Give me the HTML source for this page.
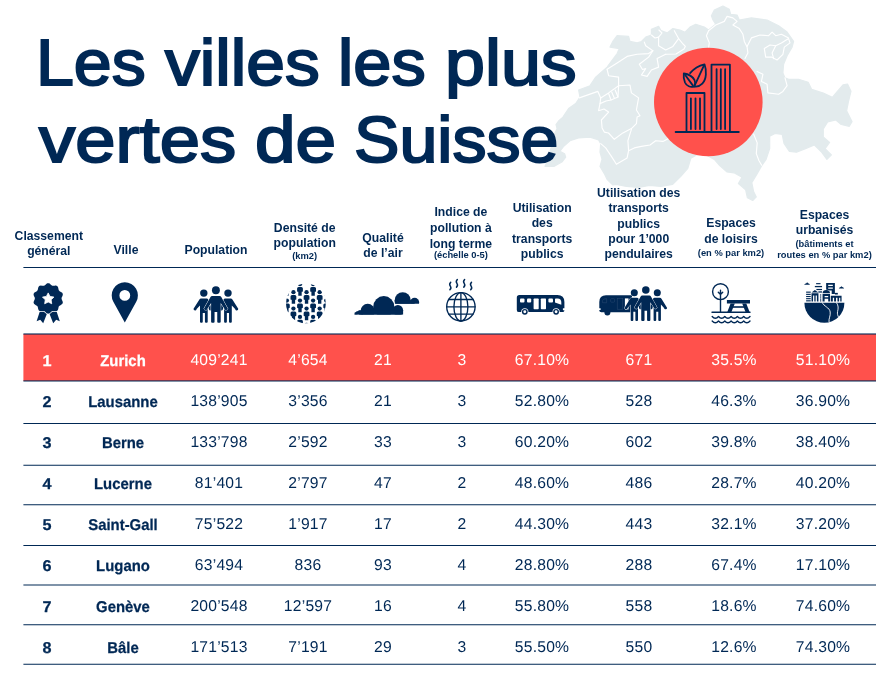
<!DOCTYPE html>
<html lang="fr">
<head>
<meta charset="utf-8">
<title>Les villes les plus vertes de Suisse</title>
<style>
*{margin:0;padding:0;box-sizing:border-box}
html,body{width:895px;height:700px;background:#fff;overflow:hidden}
body{position:relative;font-family:"Liberation Sans",sans-serif;color:#002855}
#hdr,#rows{will-change:transform}
#art{position:absolute;left:0;top:0;width:895px;height:700px}
.tw{position:absolute;font-size:65.5px;line-height:80px;font-weight:400;-webkit-text-stroke:2.0px #002855;color:#002855;white-space:nowrap;transform-origin:0 0}
.hd,.c{position:absolute;width:200px;height:20px;line-height:20px;text-align:center;white-space:nowrap;color:#002855}
.hd{font-weight:700;font-size:12.2px}
.hd.sm{font-size:9.35px}
.c{font-size:15.7px;letter-spacing:0.2px;transform:matrix(1,0,0.0005,1,0,0)}
.c.b{font-weight:700;font-size:15.6px;letter-spacing:0;transform:matrix(0.955,0,0.0005,1,0,0);-webkit-text-stroke:0.25px currentColor}
.c.b.r{transform:matrix(1.04,0,0.0005,1,0,0)}
.c.w{color:#fff}
</style>
</head>
<body>
<svg id="art" viewBox="0 0 895 700" width="895" height="700">
<g id="map"><path d="M545.0 166.3 L547.0 162.0 L549.0 155.0 L551.0 148.0 L553.0 140.0 L554.3 134.3 L557.1 128.6 L556.0 124.6 L558.9 120.6 L562.9 117.1 L568.6 108.6 L575.7 103.6 L580.0 97.1 L578.6 90.0 L590.0 85.7 L595.7 77.1 L607.1 67.1 L617.1 53.6 L619.3 48.6 L610.0 47.1 L613.0 41.0 L617.1 35.7 L628.6 36.4 L630.0 41.4 L637.1 42.9 L641.5 41.5 L645.7 37.1 L651.4 35.0 L651.4 29.3 L658.6 26.4 L661.0 30.5 L667.1 32.9 L672.9 28.6 L680.0 30.0 L685.0 32.2 L690.0 27.1 L695.7 24.3 L704.3 27.1 L708.6 30.0 L715.7 24.3 L713.0 20.0 L711.4 15.7 L714.3 10.0 L722.9 6.0 L729.3 9.3 L730.7 14.3 L737.1 15.0 L739.3 20.0 L751.4 17.9 L767.1 20.0 L778.6 25.7 L787.1 32.1 L793.6 41.4 L792.1 47.1 L787.1 55.7 L783.6 64.3 L782.9 72.9 L785.0 77.9 L788.6 79.3 L798.6 79.3 L808.2 82.3 L811.7 89.4 L823.3 93.0 L832.3 97.4 L837.6 91.2 L843.0 84.9 L847.5 84.0 L851.0 91.2 L848.4 101.9 L846.6 110.8 L852.0 121.6 L849.3 126.3 L841.2 124.5 L835.9 120.0 L827.8 121.8 L823.3 129.0 L823.3 137.0 L829.6 142.4 L825.1 148.6 L831.4 154.9 L826.9 159.4 L821.6 152.2 L814.4 145.0 L805.5 148.6 L796.5 152.2 L789.4 151.3 L784.0 143.3 L782.2 134.3 L775.1 133.4 L769.7 136.1 L769.7 148.6 L766.1 159.4 L761.7 165.6 L757.2 173.7 L751.8 182.6 L753.6 191.5 L756.3 196.9 L752.7 200.5 L747.4 197.8 L745.6 189.7 L738.4 183.5 L742.0 177.2 L734.0 172.8 L726.8 171.9 L719.7 165.6 L714.3 159.4 L708.0 156.0 L700.0 153.0 L690.8 158.3 L687.8 168.3 L680.8 176.4 L672.7 184.4 L660.7 186.4 L649.6 185.4 L638.5 187.4 L626.5 186.4 L616.4 184.4 L612.9 185.0 L607.0 179.3 L604.3 173.6 L600.0 166.4 L602.0 159.3 L600.0 152.0 L600.7 143.6 L598.6 140.0 L590.0 137.1 L578.6 137.9 L570.0 140.7 L564.0 146.0 L560.0 151.2 L564.6 153.7 L565.7 157.1 L562.3 161.7 L554.3 166.3Z" fill="#e3ebed" stroke="#e3ebed" stroke-width="1.2" stroke-linejoin="round"/><path d="M607.1 69.3 L617.1 62.9 L627.1 56.4 L637.1 54.3 L648.6 53.6 L652.9 50.7 L645.7 45.7 L644.3 42.1" fill="none" stroke="#fff" stroke-width="1.15" stroke-linejoin="round" stroke-linecap="round"/><path d="M607.1 69.3 L608.6 75.7 L618.6 77.1 L618.6 85.7 L608.6 92.9 L600.7 97.9 L597.9 91.4 L579.3 97.9" fill="none" stroke="#fff" stroke-width="1.15" stroke-linejoin="round" stroke-linecap="round"/><path d="M618.6 85.7 L630 85 L631.4 92.9 L638.6 97.9 L636.4 110 L640 115.7 L637.1 117.1 L636.4 123.6 L631.4 128.6 L622.9 132.9 L614.3 139.3 L608.5 133 L604.3 132.1 L602.1 127.9 L601.4 120 L608.6 112.1 L604 109 L598.6 110.7 L600 103.6" fill="none" stroke="#fff" stroke-width="1.15" stroke-linejoin="round" stroke-linecap="round"/><path d="M608.6 93.5 L611 100" fill="none" stroke="#fff" stroke-width="1.15" stroke-linejoin="round" stroke-linecap="round"/><path d="M611.7 92 L614.5 98.5" fill="none" stroke="#fff" stroke-width="1.15" stroke-linejoin="round" stroke-linecap="round"/><path d="M615.2 90 L618 97" fill="none" stroke="#fff" stroke-width="1.15" stroke-linejoin="round" stroke-linecap="round"/><path d="M600.7 97.9 L600 103.6 L606 101 L611 100 L618 97 L618.6 85.7" fill="none" stroke="#fff" stroke-width="1.15" stroke-linejoin="round" stroke-linecap="round"/><path d="M652.9 50.7 L648.6 57.1 L639.3 64.3 L642.5 69.5 L645.7 68.6 L641.4 75 L647.1 76.4 L651.4 70 L658.6 67.1 L657.1 58.6 L665.7 54.3" fill="none" stroke="#fff" stroke-width="1.15" stroke-linejoin="round" stroke-linecap="round"/><path d="M658.6 37.1 L658.6 45.7 L665.7 50 L672.9 46.4 L678.6 38.6 L674.3 30.7" fill="none" stroke="#fff" stroke-width="1.15" stroke-linejoin="round" stroke-linecap="round"/><path d="M651.4 35 L655 38 L658.6 37.1 L662 33 L658.9 30" fill="none" stroke="#fff" stroke-width="1.15" stroke-linejoin="round" stroke-linecap="round"/><path d="M600.7 143.6 L605.7 147.9 L611.4 156.4 L616.4 164.3 L627.1 157.9 L628.6 150.7 L627.9 140.7 L631.4 129.3" fill="none" stroke="#fff" stroke-width="1.15" stroke-linejoin="round" stroke-linecap="round"/><path d="M628.6 150.7 L634.3 147.9 L641.4 146.4 L650 145 L655.7 140.7 L662.9 141.4 L668.6 138.6" fill="none" stroke="#fff" stroke-width="1.15" stroke-linejoin="round" stroke-linecap="round"/><path d="M708.6 30.7 L715.7 25 L724.3 21.4 L727.1 16.4 L732.9 17.9 L737.1 21.4 L732.9 25 L739.3 28.6 L742.9 34.3 L744.3 41.4 L747.1 47.1 L747.9 52.9 L745 58.6" fill="none" stroke="#fff" stroke-width="1.15" stroke-linejoin="round" stroke-linecap="round"/><path d="M708.6 30.7 L706.4 35.7 L709.3 42.9 L708.6 47.5" fill="none" stroke="#fff" stroke-width="1.15" stroke-linejoin="round" stroke-linecap="round"/><path d="M747.1 46.5 L751.4 37.9 L760 35 L768.6 35.7 L772.1 32.1 L775.7 35.7 L781.4 34.3 L788.6 37.9" fill="none" stroke="#fff" stroke-width="1.15" stroke-linejoin="round" stroke-linecap="round"/><path d="M764.3 48.6 L770 45 L775.7 45.7 L781.4 42.9 L788.6 38.6 L790 42.9 L784.3 47.1 L782.9 54.3 L777.1 60 L771.4 57.1 L765.7 57.1 L764.3 48.6" fill="none" stroke="#fff" stroke-width="1.15" stroke-linejoin="round" stroke-linecap="round"/><path d="M775.7 45.7 L772.1 52.9 L773.6 58.6" fill="none" stroke="#fff" stroke-width="1.15" stroke-linejoin="round" stroke-linecap="round"/><path d="M757.1 71.4 L762.9 74.3 L761.4 81.4 L767.1 84.3 L767.9 92.9 L778.6 94.3 L782.9 91.4 L787.1 85.7 L785 77.9" fill="none" stroke="#fff" stroke-width="1.15" stroke-linejoin="round" stroke-linecap="round"/><path d="M753.6 134 L757.2 142.9 L756.3 153.6 L759 160.8 L761.7 165.2" fill="none" stroke="#fff" stroke-width="1.15" stroke-linejoin="round" stroke-linecap="round"/><path d="M678.6 38.6 L683 44 L685.4 46.3 L684 49 L676 54 L665.7 54.3" fill="none" stroke="#fff" stroke-width="1.15" stroke-linejoin="round" stroke-linecap="round"/></g><g id="logo"><circle cx="708.3" cy="102" r="54.3" fill="#ff514c"/><g fill="none" stroke="#002855" stroke-width="1.8" stroke-linecap="round" stroke-linejoin="round"><path d="M675.6 132H738.8"/><path d="M711.5 132V64.6H729.9V132"/><path d="M716.6 69.2V129M720.8 69.2V129M725.1 69.2V129"/><path d="M686.5 132V93H704.5V132"/><path d="M690.9 98.3V129M695.5 98.3V129M700 98.3V129"/><path d="M690.1 73.1C693.2 69.4 699.6 65.4 704.5 64.3C706.6 70 706.8 79 702.3 83.7C700 86 697.2 87 694.3 86.5"/><path d="M704 65.4L694.5 85.9"/><path d="M683.8 73.5C688 74 692.5 76.5 694.5 80C695.6 82.5 695.3 84.6 694.3 86.4C690.5 87.8 686.5 86 685 82.5C683.8 79.5 683.4 76.5 683.8 73.5Z"/><path d="M685.2 75L692.8 85.4"/></g></g><g id="i-badge" fill="#002855"><polygon points="41.6,306 36.6,321.2 40.2,319.8 43.2,323.2 48.0,311"/><polygon points="54.8,306 59.8,321.2 56.2,319.8 53.2,323.2 48.4,311"/><path d="M48.20 283.15 L48.68 283.20 L49.15 283.36 L49.60 283.61 L50.03 283.92 L50.44 284.28 L50.82 284.64 L51.20 284.99 L51.57 285.29 L51.94 285.54 L52.33 285.70 L52.74 285.80 L53.18 285.82 L53.66 285.79 L54.16 285.73 L54.69 285.66 L55.23 285.61 L55.76 285.61 L56.27 285.68 L56.75 285.83 L57.16 286.06 L57.52 286.39 L57.81 286.79 L58.03 287.25 L58.19 287.76 L58.31 288.29 L58.41 288.81 L58.51 289.31 L58.63 289.77 L58.79 290.19 L59.00 290.55 L59.28 290.87 L59.62 291.15 L60.03 291.40 L60.47 291.65 L60.94 291.91 L61.40 292.19 L61.84 292.50 L62.21 292.85 L62.50 293.25 L62.70 293.69 L62.80 294.16 L62.80 294.65 L62.70 295.16 L62.54 295.67 L62.32 296.16 L62.10 296.64 L61.88 297.11 L61.70 297.55 L61.59 297.98 L61.55 298.40 L61.59 298.82 L61.70 299.25 L61.88 299.69 L62.10 300.16 L62.32 300.64 L62.54 301.13 L62.70 301.64 L62.80 302.15 L62.80 302.64 L62.70 303.11 L62.50 303.55 L62.21 303.95 L61.84 304.30 L61.40 304.61 L60.94 304.89 L60.47 305.15 L60.03 305.40 L59.62 305.65 L59.28 305.93 L59.00 306.25 L58.79 306.61 L58.63 307.03 L58.51 307.49 L58.41 307.99 L58.31 308.51 L58.19 309.04 L58.03 309.55 L57.81 310.01 L57.52 310.41 L57.16 310.74 L56.75 310.97 L56.27 311.12 L55.76 311.19 L55.23 311.19 L54.69 311.14 L54.16 311.07 L53.66 311.01 L53.18 310.98 L52.74 311.00 L52.33 311.10 L51.94 311.26 L51.57 311.51 L51.20 311.81 L50.82 312.16 L50.44 312.52 L50.03 312.88 L49.60 313.19 L49.15 313.44 L48.68 313.60 L48.20 313.65 L47.72 313.60 L47.25 313.44 L46.80 313.19 L46.37 312.88 L45.96 312.52 L45.58 312.16 L45.20 311.81 L44.83 311.51 L44.46 311.26 L44.07 311.10 L43.66 311.00 L43.22 310.98 L42.74 311.01 L42.24 311.07 L41.71 311.14 L41.17 311.19 L40.64 311.19 L40.13 311.12 L39.65 310.97 L39.24 310.74 L38.88 310.41 L38.59 310.01 L38.37 309.55 L38.21 309.04 L38.09 308.51 L37.99 307.99 L37.89 307.49 L37.77 307.03 L37.61 306.61 L37.40 306.25 L37.12 305.93 L36.78 305.65 L36.37 305.40 L35.93 305.15 L35.46 304.89 L35.00 304.61 L34.56 304.30 L34.19 303.95 L33.90 303.55 L33.70 303.11 L33.60 302.64 L33.60 302.15 L33.70 301.64 L33.86 301.13 L34.08 300.64 L34.30 300.16 L34.52 299.69 L34.70 299.25 L34.81 298.82 L34.85 298.40 L34.81 297.98 L34.70 297.55 L34.52 297.11 L34.30 296.64 L34.08 296.16 L33.86 295.67 L33.70 295.16 L33.60 294.65 L33.60 294.16 L33.70 293.69 L33.90 293.25 L34.19 292.85 L34.56 292.50 L35.00 292.19 L35.46 291.91 L35.93 291.65 L36.37 291.40 L36.78 291.15 L37.12 290.87 L37.40 290.55 L37.61 290.19 L37.77 289.77 L37.89 289.31 L37.99 288.81 L38.09 288.29 L38.21 287.76 L38.37 287.25 L38.59 286.79 L38.88 286.39 L39.24 286.06 L39.65 285.83 L40.13 285.68 L40.64 285.61 L41.17 285.61 L41.71 285.66 L42.24 285.73 L42.74 285.79 L43.22 285.82 L43.66 285.80 L44.07 285.70 L44.46 285.54 L44.83 285.29 L45.20 284.99 L45.58 284.64 L45.96 284.28 L46.37 283.92 L46.80 283.61 L47.25 283.36 L47.72 283.20Z" stroke="#fff" stroke-width="1.5" paint-order="stroke"/><polygon points="48.20,292.90 50.02,296.39 53.91,297.05 51.15,299.86 51.73,303.75 48.20,302.00 44.67,303.75 45.25,299.86 42.49,297.05 46.38,296.39" fill="#fff" stroke="#fff" stroke-width="0.8" stroke-linejoin="round"/></g><g id="i-pin"><path fill="#002855" fill-rule="evenodd" d="M124.80 322.4L113.35 301.76A13.1 13.1 0 1 1 136.25 301.76ZM119.40 295.4a5.4 5.4 0 1 0 10.8 0a5.4 5.4 0 1 0 -10.8 0Z"/></g><g id="i-people" transform="translate(0.0 0.0) translate(215.9 322.7) scale(1.0) translate(-215.9 -322.7)"><path d="M201.00 298.40H206.70Q207.70 298.40 208.30 299.40L211.95 308.80Q212.15 310.60 210.00 310.40Q209.05 310.20 208.85 309.00L207.70 305.40V321.70Q207.70 322.70 206.70 322.70H205.93Q204.93 322.70 204.93 321.70V312.98H202.77V321.70Q202.77 322.70 201.77 322.70H201.00Q200.00 322.70 200.00 321.70V305.40L196.65 309.00Q196.45 310.20 195.50 310.40Q193.35 310.60 193.55 308.80L199.40 299.40Q200.00 298.40 201.00 298.40Z" fill="#002855"/><circle cx="203.80" cy="293.10" r="3.7" fill="#002855"/><path d="M225.10 298.40H230.80Q231.80 298.40 232.40 299.40L238.25 308.80Q238.45 310.60 236.30 310.40Q235.35 310.20 235.15 309.00L231.80 305.40V321.70Q231.80 322.70 230.80 322.70H230.03Q229.03 322.70 229.03 321.70V312.98H226.87V321.70Q226.87 322.70 225.87 322.70H225.10Q224.10 322.70 224.10 321.70V305.40L222.95 309.00Q222.75 310.20 221.80 310.40Q219.65 310.60 219.85 308.80L223.50 299.40Q224.10 298.40 225.10 298.40Z" fill="#002855"/><circle cx="228.00" cy="293.10" r="3.7" fill="#002855"/><path d="M212.10 296.00H219.70Q220.70 296.00 221.30 297.00L227.65 308.40Q227.85 310.20 225.60 310.00Q224.55 309.80 224.35 308.60L220.70 303.00V321.70Q220.70 322.70 219.70 322.70H218.24Q217.24 322.70 217.24 321.70V312.02H214.56V321.70Q214.56 322.70 213.56 322.70H212.10Q211.10 322.70 211.10 321.70V303.00L207.45 308.60Q207.25 309.80 206.20 310.00Q203.95 310.20 204.15 308.40L210.50 297.00Q211.10 296.00 212.10 296.00Z" fill="#002855" stroke="#fff" stroke-width="0.9" paint-order="stroke"/><circle cx="215.90" cy="290.30" r="3.95" fill="#002855" stroke="#fff" stroke-width="0.9" paint-order="stroke"/></g><g id="i-density"><clipPath id="dclip"><circle cx="305.9" cy="303.4" r="19.9"/></clipPath><g clip-path="url(#dclip)" fill="#002855"><circle cx="280.31" cy="292.20" r="2.15"/><path d="M277.41 296.60Q277.41 295.10 278.91 295.10H281.71Q283.21 295.10 283.21 296.60V299.20Q283.21 299.80 282.01 299.80V303.80H278.61V299.80Q277.41 299.80 277.41 299.20Z"/><circle cx="280.31" cy="308.60" r="2.15"/><path d="M277.41 313.00Q277.41 311.50 278.91 311.50H281.71Q283.21 311.50 283.21 313.00V315.60Q283.21 316.20 282.01 316.20V320.20H278.61V316.20Q277.41 316.20 277.41 315.60Z"/><circle cx="280.31" cy="325.00" r="2.15"/><path d="M277.41 329.40Q277.41 327.90 278.91 327.90H281.71Q283.21 327.90 283.21 329.40V332.00Q283.21 332.60 282.01 332.60V336.60H278.61V332.60Q277.41 332.60 277.41 332.00Z"/><circle cx="286.87" cy="284.15" r="2.15"/><path d="M283.97 288.55Q283.97 287.05 285.47 287.05H288.27Q289.77 287.05 289.77 288.55V291.15Q289.77 291.75 288.57 291.75V295.75H285.17V291.75Q283.97 291.75 283.97 291.15Z"/><circle cx="286.87" cy="300.55" r="2.15"/><path d="M283.97 304.95Q283.97 303.45 285.47 303.45H288.27Q289.77 303.45 289.77 304.95V307.55Q289.77 308.15 288.57 308.15V312.15H285.17V308.15Q283.97 308.15 283.97 307.55Z"/><circle cx="286.87" cy="316.95" r="2.15"/><path d="M283.97 321.35Q283.97 319.85 285.47 319.85H288.27Q289.77 319.85 289.77 321.35V323.95Q289.77 324.55 288.57 324.55V328.55H285.17V324.55Q283.97 324.55 283.97 323.95Z"/><circle cx="286.87" cy="333.35" r="2.15"/><path d="M283.97 337.75Q283.97 336.25 285.47 336.25H288.27Q289.77 336.25 289.77 337.75V340.35Q289.77 340.95 288.57 340.95V344.95H285.17V340.95Q283.97 340.95 283.97 340.35Z"/><circle cx="293.43" cy="292.20" r="2.15"/><path d="M290.53 296.60Q290.53 295.10 292.03 295.10H294.83Q296.33 295.10 296.33 296.60V299.20Q296.33 299.80 295.13 299.80V303.80H291.73V299.80Q290.53 299.80 290.53 299.20Z"/><circle cx="293.43" cy="308.60" r="2.15"/><path d="M290.53 313.00Q290.53 311.50 292.03 311.50H294.83Q296.33 311.50 296.33 313.00V315.60Q296.33 316.20 295.13 316.20V320.20H291.73V316.20Q290.53 316.20 290.53 315.60Z"/><circle cx="293.43" cy="325.00" r="2.15"/><path d="M290.53 329.40Q290.53 327.90 292.03 327.90H294.83Q296.33 327.90 296.33 329.40V332.00Q296.33 332.60 295.13 332.60V336.60H291.73V332.60Q290.53 332.60 290.53 332.00Z"/><circle cx="299.99" cy="284.15" r="2.15"/><path d="M297.09 288.55Q297.09 287.05 298.59 287.05H301.39Q302.89 287.05 302.89 288.55V291.15Q302.89 291.75 301.69 291.75V295.75H298.29V291.75Q297.09 291.75 297.09 291.15Z"/><circle cx="299.99" cy="300.55" r="2.15"/><path d="M297.09 304.95Q297.09 303.45 298.59 303.45H301.39Q302.89 303.45 302.89 304.95V307.55Q302.89 308.15 301.69 308.15V312.15H298.29V308.15Q297.09 308.15 297.09 307.55Z"/><circle cx="299.99" cy="316.95" r="2.15"/><path d="M297.09 321.35Q297.09 319.85 298.59 319.85H301.39Q302.89 319.85 302.89 321.35V323.95Q302.89 324.55 301.69 324.55V328.55H298.29V324.55Q297.09 324.55 297.09 323.95Z"/><circle cx="299.99" cy="333.35" r="2.15"/><path d="M297.09 337.75Q297.09 336.25 298.59 336.25H301.39Q302.89 336.25 302.89 337.75V340.35Q302.89 340.95 301.69 340.95V344.95H298.29V340.95Q297.09 340.95 297.09 340.35Z"/><circle cx="306.55" cy="292.20" r="2.15"/><path d="M303.65 296.60Q303.65 295.10 305.15 295.10H307.95Q309.45 295.10 309.45 296.60V299.20Q309.45 299.80 308.25 299.80V303.80H304.85V299.80Q303.65 299.80 303.65 299.20Z"/><circle cx="306.55" cy="308.60" r="2.15"/><path d="M303.65 313.00Q303.65 311.50 305.15 311.50H307.95Q309.45 311.50 309.45 313.00V315.60Q309.45 316.20 308.25 316.20V320.20H304.85V316.20Q303.65 316.20 303.65 315.60Z"/><circle cx="306.55" cy="325.00" r="2.15"/><path d="M303.65 329.40Q303.65 327.90 305.15 327.90H307.95Q309.45 327.90 309.45 329.40V332.00Q309.45 332.60 308.25 332.60V336.60H304.85V332.60Q303.65 332.60 303.65 332.00Z"/><circle cx="313.11" cy="284.15" r="2.15"/><path d="M310.21 288.55Q310.21 287.05 311.71 287.05H314.51Q316.01 287.05 316.01 288.55V291.15Q316.01 291.75 314.81 291.75V295.75H311.41V291.75Q310.21 291.75 310.21 291.15Z"/><circle cx="313.11" cy="300.55" r="2.15"/><path d="M310.21 304.95Q310.21 303.45 311.71 303.45H314.51Q316.01 303.45 316.01 304.95V307.55Q316.01 308.15 314.81 308.15V312.15H311.41V308.15Q310.21 308.15 310.21 307.55Z"/><circle cx="313.11" cy="316.95" r="2.15"/><path d="M310.21 321.35Q310.21 319.85 311.71 319.85H314.51Q316.01 319.85 316.01 321.35V323.95Q316.01 324.55 314.81 324.55V328.55H311.41V324.55Q310.21 324.55 310.21 323.95Z"/><circle cx="313.11" cy="333.35" r="2.15"/><path d="M310.21 337.75Q310.21 336.25 311.71 336.25H314.51Q316.01 336.25 316.01 337.75V340.35Q316.01 340.95 314.81 340.95V344.95H311.41V340.95Q310.21 340.95 310.21 340.35Z"/><circle cx="319.67" cy="292.20" r="2.15"/><path d="M316.77 296.60Q316.77 295.10 318.27 295.10H321.07Q322.57 295.10 322.57 296.60V299.20Q322.57 299.80 321.37 299.80V303.80H317.97V299.80Q316.77 299.80 316.77 299.20Z"/><circle cx="319.67" cy="308.60" r="2.15"/><path d="M316.77 313.00Q316.77 311.50 318.27 311.50H321.07Q322.57 311.50 322.57 313.00V315.60Q322.57 316.20 321.37 316.20V320.20H317.97V316.20Q316.77 316.20 316.77 315.60Z"/><circle cx="319.67" cy="325.00" r="2.15"/><path d="M316.77 329.40Q316.77 327.90 318.27 327.90H321.07Q322.57 327.90 322.57 329.40V332.00Q322.57 332.60 321.37 332.60V336.60H317.97V332.60Q316.77 332.60 316.77 332.00Z"/><circle cx="326.23" cy="284.15" r="2.15"/><path d="M323.33 288.55Q323.33 287.05 324.83 287.05H327.63Q329.13 287.05 329.13 288.55V291.15Q329.13 291.75 327.93 291.75V295.75H324.53V291.75Q323.33 291.75 323.33 291.15Z"/><circle cx="326.23" cy="300.55" r="2.15"/><path d="M323.33 304.95Q323.33 303.45 324.83 303.45H327.63Q329.13 303.45 329.13 304.95V307.55Q329.13 308.15 327.93 308.15V312.15H324.53V308.15Q323.33 308.15 323.33 307.55Z"/><circle cx="326.23" cy="316.95" r="2.15"/><path d="M323.33 321.35Q323.33 319.85 324.83 319.85H327.63Q329.13 319.85 329.13 321.35V323.95Q329.13 324.55 327.93 324.55V328.55H324.53V324.55Q323.33 324.55 323.33 323.95Z"/><circle cx="326.23" cy="333.35" r="2.15"/><path d="M323.33 337.75Q323.33 336.25 324.83 336.25H327.63Q329.13 336.25 329.13 337.75V340.35Q329.13 340.95 327.93 340.95V344.95H324.53V340.95Q323.33 340.95 323.33 340.35Z"/><circle cx="332.79" cy="292.20" r="2.15"/><path d="M329.89 296.60Q329.89 295.10 331.39 295.10H334.19Q335.69 295.10 335.69 296.60V299.20Q335.69 299.80 334.49 299.80V303.80H331.09V299.80Q329.89 299.80 329.89 299.20Z"/><circle cx="332.79" cy="308.60" r="2.15"/><path d="M329.89 313.00Q329.89 311.50 331.39 311.50H334.19Q335.69 311.50 335.69 313.00V315.60Q335.69 316.20 334.49 316.20V320.20H331.09V316.20Q329.89 316.20 329.89 315.60Z"/><circle cx="332.79" cy="325.00" r="2.15"/><path d="M329.89 329.40Q329.89 327.90 331.39 327.90H334.19Q335.69 327.90 335.69 329.40V332.00Q335.69 332.60 334.49 332.60V336.60H331.09V332.60Q329.89 332.60 329.89 332.00Z"/></g></g><g id="i-clouds" fill="#002855"><clipPath id="cc1"><rect x="390" y="285" width="35" height="18.8"/></clipPath><clipPath id="cc2"><rect x="350" y="290" width="58" height="24.5"/></clipPath><g clip-path="url(#cc1)"><circle cx="402.7" cy="300.2" r="8"/><circle cx="414.6" cy="302.4" r="4.6"/><rect x="394.7" y="300.2" width="19.9" height="5"/></g><g stroke="#fff" stroke-width="1.7"><circle cx="358.5" cy="315.3" r="4.4"/><circle cx="367.7" cy="311.0" r="7.2"/><circle cx="383.8" cy="306.6" r="10.5"/><circle cx="397.9" cy="310.2" r="5.2"/><rect x="358.5" y="310.2" width="44.6" height="6"/></g><rect x="350" y="314.5" width="60" height="8" fill="#fff"/><g clip-path="url(#cc2)"><circle cx="358.5" cy="315.3" r="4.4"/><circle cx="367.7" cy="311.0" r="7.2"/><circle cx="383.8" cy="306.6" r="10.5"/><circle cx="397.9" cy="310.2" r="5.2"/><rect x="358.5" y="310.2" width="44.6" height="6"/></g></g><g id="i-globe" fill="none" stroke="#002855" stroke-width="1.35" stroke-linecap="round"><circle cx="460.9" cy="306.8" r="14.2"/><ellipse cx="460.9" cy="306.8" rx="7.0" ry="14.2"/><path d="M460.9 292.6V321.0M446.7 306.8H475.09999999999997"/><path d="M448.72 299.5H473.08M448.72 314.1H473.08"/><path stroke-width="1.5" d="M450.70 282.30q-1.8 1.9 -0.4 3.8t-0.4 3.7"/><path stroke-width="1.5" d="M457.30 279.60q-1.8 1.9 -0.4 3.8t-0.4 3.7"/><path stroke-width="1.5" d="M464.60 279.60q-1.8 1.9 -0.4 3.8t-0.4 3.7"/><path stroke-width="1.5" d="M471.50 282.30q-1.8 1.9 -0.4 3.8t-0.4 3.7"/></g><g id="i-bus"><path d="M519.4 295.1H557.4Q564.4 295.1 564.4 302.1V308.2H562.9V310.2H564.4V310.4Q564.4 312.1 562.4 312.1H519.0Q516.8 312.1 516.8 309.9V297.7Q516.8 295.1 519.4 295.1Z" fill="#002855"/><rect x="520.0" y="298.5" width="4.5" height="3.9" rx="1" fill="#fff"/><rect x="527.0" y="298.5" width="4.2" height="3.9" rx="1" fill="#fff"/><rect x="533.6" y="298.5" width="5.1" height="10.8" rx="0.7" fill="#fff"/><rect x="540.8" y="298.5" width="5.2" height="10.8" rx="0.7" fill="#fff"/><rect x="548.4" y="298.5" width="4.6" height="3.9" rx="1" fill="#fff"/><path d="M555.0 299.3Q555.0 298.5 555.8 298.5H557.6Q561.3 298.8 561.3 302.4V304.8L555.0 302.6Z" fill="#fff"/><circle cx="524.8" cy="311.8" r="3.6" fill="#fff"/><circle cx="524.8" cy="311.8" r="2.9" fill="#002855"/><circle cx="524.8" cy="311.8" r="1.45" fill="#fff"/><circle cx="556.1" cy="311.8" r="3.6" fill="#fff"/><circle cx="556.1" cy="311.8" r="2.9" fill="#002855"/><circle cx="556.1" cy="311.8" r="1.45" fill="#fff"/></g><g id="i-buspeople"><path d="M606.0 295.2H632V312.2H601.4Q599.3 312.2 599.3 310.4V310.0H600.6V308.2H599.3V302.0Q599.3 295.2 606.0 295.2Z" fill="#002855"/><circle cx="607.4" cy="312.4" r="3.0" fill="#002855"/><rect x="624.9" y="298.4" width="3.6" height="11" fill="#fff"/><g fill="none" stroke="#2a4a72" stroke-width="0.5"><rect x="617.2" y="298.6" width="5.6" height="10.6"/><rect x="610.6" y="298.6" width="4" height="3.6" rx="1"/><path d="M602.4 302.6V300.6Q603 298.6 606.6 298.6V302.8Z"/></g></g><g id="i-buspeople2" transform="translate(429.9 -1.8000000000000114) translate(215.9 322.7) scale(0.95) translate(-215.9 -322.7)"><path d="M201.00 298.40H206.70Q207.70 298.40 208.30 299.40L211.95 308.80Q212.15 310.60 210.00 310.40Q209.05 310.20 208.85 309.00L207.70 305.40V321.70Q207.70 322.70 206.70 322.70H205.93Q204.93 322.70 204.93 321.70V312.98H202.77V321.70Q202.77 322.70 201.77 322.70H201.00Q200.00 322.70 200.00 321.70V305.40L196.65 309.00Q196.45 310.20 195.50 310.40Q193.35 310.60 193.55 308.80L199.40 299.40Q200.00 298.40 201.00 298.40Z" fill="#002855" stroke="#fff" stroke-width="0.9" paint-order="stroke"/><circle cx="203.80" cy="293.10" r="3.7" fill="#002855" stroke="#fff" stroke-width="0.9" paint-order="stroke"/><path d="M225.10 298.40H230.80Q231.80 298.40 232.40 299.40L238.25 308.80Q238.45 310.60 236.30 310.40Q235.35 310.20 235.15 309.00L231.80 305.40V321.70Q231.80 322.70 230.80 322.70H230.03Q229.03 322.70 229.03 321.70V312.98H226.87V321.70Q226.87 322.70 225.87 322.70H225.10Q224.10 322.70 224.10 321.70V305.40L222.95 309.00Q222.75 310.20 221.80 310.40Q219.65 310.60 219.85 308.80L223.50 299.40Q224.10 298.40 225.10 298.40Z" fill="#002855"/><circle cx="228.00" cy="293.10" r="3.7" fill="#002855"/><path d="M212.10 296.00H219.70Q220.70 296.00 221.30 297.00L227.65 308.40Q227.85 310.20 225.60 310.00Q224.55 309.80 224.35 308.60L220.70 303.00V321.70Q220.70 322.70 219.70 322.70H218.24Q217.24 322.70 217.24 321.70V312.02H214.56V321.70Q214.56 322.70 213.56 322.70H212.10Q211.10 322.70 211.10 321.70V303.00L207.45 308.60Q207.25 309.80 206.20 310.00Q203.95 310.20 204.15 308.40L210.50 297.00Q211.10 296.00 212.10 296.00Z" fill="#002855" stroke="#fff" stroke-width="0.9" paint-order="stroke"/><circle cx="215.90" cy="290.30" r="3.95" fill="#002855" stroke="#fff" stroke-width="0.9" paint-order="stroke"/></g><g id="i-picnic"><g fill="none" stroke="#002855" stroke-width="1.4" stroke-linecap="round" stroke-linejoin="round"><circle cx="720.5" cy="291.7" r="7.9"/><path d="M720.5 290.2V312.3M720.5 294.6L718.3 292.3M720.5 294.6L722.7 292.3"/><path d="M712 312.3H750"/><path d="M712.2 316.5q3.15 3.6 6.3 0q3.15 3.6 6.3 0q3.15 3.6 6.3 0q3.15 3.6 6.3 0q3.15 3.6 6.3 0q3.15 3.6 6.3 0"/><path d="M712.2 321.0q3.15 3.6 6.3 0q3.15 3.6 6.3 0q3.15 3.6 6.3 0q3.15 3.6 6.3 0q3.15 3.6 6.3 0q3.15 3.6 6.3 0"/></g><g fill="#002855"><rect x="726.9" y="300.0" width="23.1" height="3.5"/><polygon points="730.6,303.4 734.8,303.4 731.4,312 727.3,312"/><polygon points="742.2,303.4 746.3,303.4 749.6,312 745.5,312"/><rect x="732.4" y="306.2" width="12.2" height="1.6"/></g></g><g id="i-city"><path d="M804.4 302.8A20.0 20.0 0 0 0 844.4 302.8Z" fill="#002855"/><g fill="none" stroke="#fff" stroke-width="0.9" stroke-linecap="round"><path d="M822.4 302.8C823.6 306.4 829.6 307.4 830.2 312C830.8 316 828.4 318.6 829 321.8"/><path d="M836.6 302.8C838.6 305.6 838.4 308.4 837.6 311.4C837 313.8 837.8 315.6 838.6 317.2"/></g><g fill="#002855"><path d="M804.06 284.65Q805.08 283.37 806.37 283.21L807.14 282.19L808.06 283.21Q809.45 283.52 809.97 284.65Z"/><path d="M838.74 288.51Q839.51 287.32 840.64 287.12L841.47 286.19L842.29 287.12Q843.52 287.43 844.14 288.51Z"/><rect x="806.11" y="291.59" width="4.62" height="1.13"/><rect x="806.11" y="293.80" width="4.62" height="1.13"/><rect x="806.11" y="295.96" width="4.62" height="1.13"/><rect x="806.11" y="298.12" width="4.62" height="1.13"/><rect x="806.11" y="300.27" width="4.62" height="1.13"/><rect x="816.13" y="283.11" width="4.37" height="1.13"/><rect x="814.85" y="285.94" width="7.19" height="1.28"/><rect x="816.39" y="288.92" width="5.65" height="1.18"/><rect x="818.34" y="291.33" width="3.70" height="1.28"/><path d="M811.51 292.62L814.85 289.95L818.44 292.62Z"/><path d="M811.51 293.29H818.44V301.61H816.90V295.55H815.62V301.61H814.33V295.55H813.05V301.61H811.51Z"/><rect x="819.99" y="294.42" width="1.28" height="1.13"/><rect x="819.99" y="296.47" width="1.28" height="1.13"/><rect x="819.99" y="298.53" width="1.28" height="1.13"/><rect x="819.99" y="300.33" width="1.28" height="1.13"/><path fill-rule="evenodd" d="M826.15 283.11H834.89V293.90H831.70V290.41H826.15ZM828.21 284.65H832.83V285.99H828.21Z M828.21 287.48H832.83V288.82H828.21Z"/><path stroke="#fff" stroke-width="0.7" paint-order="stroke" d="M822.55 292.98Q822.81 290.10 826.25 290.00Q829.75 290.10 830.01 292.98Z"/><path fill-rule="evenodd" d="M822.55 293.80H830.01V301.61H828.21V298.78H824.61V301.61H822.55ZM824.61 296.11H828.21V297.29H824.61Z"/><rect x="834.89" y="292.87" width="2.93" height="1.64"/><path d="M830.78 295.86H841.57V301.61H840.28V297.81H839.10V301.61H837.46V297.81H836.02V301.61H834.12V297.81H832.83V301.61H830.78Z"/></g></g><g id="tbl"><rect x="23.4" y="267.0" width="852.6" height="1.0" fill="#002855"/><rect x="23.4" y="334.0" width="852.6" height="47.0" fill="#ff514c"/><rect x="23.4" y="333.45" width="852.6" height="1.1" fill="#002855"/><rect x="23.4" y="380.4" width="852.6" height="1.1" fill="#002855"/><rect x="23.4" y="423.00" width="852.6" height="1.0" fill="#002855"/><rect x="23.4" y="464.75" width="852.6" height="1.0" fill="#002855"/><rect x="23.4" y="504.25" width="852.6" height="1.0" fill="#002855"/><rect x="23.4" y="545.00" width="852.6" height="1.0" fill="#002855"/><rect x="23.4" y="584.50" width="852.6" height="1.0" fill="#002855"/><rect x="23.4" y="624.25" width="852.6" height="1.0" fill="#002855"/><rect x="23.4" y="663.75" width="852.6" height="1.0" fill="#002855"/></g>
</svg>
<h1 id="title"><span class="tw" style="left:35.9px;top:23px;transform:scaleX(1.0395)">Les</span><span class="tw" style="left:164.9px;top:23px;transform:scaleX(1.0625)">villes</span><span class="tw" style="left:337.8px;top:23px;transform:scaleX(1.0473)">les</span><span class="tw" style="left:445.0px;top:23px;transform:scaleX(1.0963)">plus</span><span class="tw" style="left:38.8px;top:100px;transform:scaleX(1.1055)">vertes</span><span class="tw" style="left:255.1px;top:100px;transform:scaleX(1.1139)">de</span><span class="tw" style="left:354.1px;top:100px;transform:scaleX(1.0398)">Suisse</span></h1>
<div id="hdr"><div class="hd" style="left:-51.2px;top:226.37px">Classement</div><div class="hd" style="left:-51.2px;top:240.57px">général</div><div class="hd" style="left:26.0px;top:239.77px">Ville</div><div class="hd" style="left:116.0px;top:239.77px">Population</div><div class="hd" style="left:204.7px;top:218.07px">Densité de</div><div class="hd" style="left:204.7px;top:233.17px">population</div><div class="hd sm" style="left:204.7px;top:245.76px">(km2)</div><div class="hd" style="left:283.0px;top:228.07px">Qualité</div><div class="hd" style="left:283.0px;top:243.27px">de l’air</div><div class="hd" style="left:360.9px;top:202.27px">Indice de</div><div class="hd" style="left:360.9px;top:217.87px">pollution à</div><div class="hd" style="left:360.9px;top:233.77px">long terme</div><div class="hd sm" style="left:360.9px;top:244.66px">(échelle 0-5)</div><div class="hd" style="left:442.2px;top:197.87px">Utilisation</div><div class="hd" style="left:442.2px;top:213.27px">des</div><div class="hd" style="left:442.2px;top:228.77px">transports</div><div class="hd" style="left:442.2px;top:243.87px">publics</div><div class="hd" style="left:538.7px;top:182.77px">Utilisation des</div><div class="hd" style="left:538.7px;top:198.37px">transports</div><div class="hd" style="left:538.7px;top:213.67px">publics</div><div class="hd" style="left:538.7px;top:228.97px">pour 1’000</div><div class="hd" style="left:538.7px;top:244.47px">pendulaires</div><div class="hd" style="left:631.0px;top:213.07px">Espaces</div><div class="hd" style="left:631.0px;top:228.97px">de loisirs</div><div class="hd sm" style="left:631.0px;top:243.26px">(en % par km2)</div><div class="hd" style="left:724.5px;top:204.57px">Espaces</div><div class="hd" style="left:724.5px;top:219.57px">urbanisés</div><div class="hd sm" style="left:724.5px;top:233.86px">(bâtiments et</div><div class="hd sm" style="left:724.5px;top:245.26px">routes en % par km2)</div></div>
<div id="rows"><div class="c b r w" style="left:-53.2px;top:351px">1</div><div class="c b w" style="left:23.2px;top:351px">Zurich</div><div class="c w" style="left:118.7px;top:350px">409’241</div><div class="c w" style="left:207.7px;top:350px">4’654</div><div class="c w" style="left:283.0px;top:350px">21</div><div class="c w" style="left:361.6px;top:350px">3</div><div class="c w" style="left:441.5px;top:350px">67.10%</div><div class="c w" style="left:539.0px;top:350px">671</div><div class="c w" style="left:634.0px;top:350px">35.5%</div><div class="c w" style="left:722.6px;top:350px">51.10%</div><div class="c b r" style="left:-53.2px;top:392px">2</div><div class="c b" style="left:23.2px;top:392px">Lausanne</div><div class="c" style="left:118.7px;top:391px">138’905</div><div class="c" style="left:207.7px;top:391px">3’356</div><div class="c" style="left:283.0px;top:391px">21</div><div class="c" style="left:361.6px;top:391px">3</div><div class="c" style="left:441.5px;top:391px">52.80%</div><div class="c" style="left:539.0px;top:391px">528</div><div class="c" style="left:634.0px;top:391px">46.3%</div><div class="c" style="left:722.6px;top:391px">36.90%</div><div class="c b r" style="left:-53.2px;top:433px">3</div><div class="c b" style="left:23.2px;top:433px">Berne</div><div class="c" style="left:118.7px;top:432px">133’798</div><div class="c" style="left:207.7px;top:432px">2’592</div><div class="c" style="left:283.0px;top:432px">33</div><div class="c" style="left:361.6px;top:432px">3</div><div class="c" style="left:441.5px;top:432px">60.20%</div><div class="c" style="left:539.0px;top:432px">602</div><div class="c" style="left:634.0px;top:432px">39.8%</div><div class="c" style="left:722.6px;top:432px">38.40%</div><div class="c b r" style="left:-53.2px;top:474px">4</div><div class="c b" style="left:23.2px;top:474px">Lucerne</div><div class="c" style="left:118.7px;top:473px">81’401</div><div class="c" style="left:207.7px;top:473px">2’797</div><div class="c" style="left:283.0px;top:473px">47</div><div class="c" style="left:361.6px;top:473px">2</div><div class="c" style="left:441.5px;top:473px">48.60%</div><div class="c" style="left:539.0px;top:473px">486</div><div class="c" style="left:634.0px;top:473px">28.7%</div><div class="c" style="left:722.6px;top:473px">40.20%</div><div class="c b r" style="left:-53.2px;top:515px">5</div><div class="c b" style="left:23.2px;top:515px">Saint-Gall</div><div class="c" style="left:118.7px;top:514px">75’522</div><div class="c" style="left:207.7px;top:514px">1’917</div><div class="c" style="left:283.0px;top:514px">17</div><div class="c" style="left:361.6px;top:514px">2</div><div class="c" style="left:441.5px;top:514px">44.30%</div><div class="c" style="left:539.0px;top:514px">443</div><div class="c" style="left:634.0px;top:514px">32.1%</div><div class="c" style="left:722.6px;top:514px">37.20%</div><div class="c b r" style="left:-53.2px;top:556px">6</div><div class="c b" style="left:23.2px;top:556px">Lugano</div><div class="c" style="left:118.7px;top:555px">63’494</div><div class="c" style="left:207.7px;top:555px">836</div><div class="c" style="left:283.0px;top:555px">93</div><div class="c" style="left:361.6px;top:555px">4</div><div class="c" style="left:441.5px;top:555px">28.80%</div><div class="c" style="left:539.0px;top:555px">288</div><div class="c" style="left:634.0px;top:555px">67.4%</div><div class="c" style="left:722.6px;top:555px">17.10%</div><div class="c b r" style="left:-53.2px;top:597px">7</div><div class="c b" style="left:23.2px;top:597px">Genève</div><div class="c" style="left:118.7px;top:596px">200’548</div><div class="c" style="left:207.7px;top:596px">12’597</div><div class="c" style="left:283.0px;top:596px">16</div><div class="c" style="left:361.6px;top:596px">4</div><div class="c" style="left:441.5px;top:596px">55.80%</div><div class="c" style="left:539.0px;top:596px">558</div><div class="c" style="left:634.0px;top:596px">18.6%</div><div class="c" style="left:722.6px;top:596px">74.60%</div><div class="c b r" style="left:-53.2px;top:638px">8</div><div class="c b" style="left:23.2px;top:638px">Bâle</div><div class="c" style="left:118.7px;top:637px">171’513</div><div class="c" style="left:207.7px;top:637px">7’191</div><div class="c" style="left:283.0px;top:637px">29</div><div class="c" style="left:361.6px;top:637px">3</div><div class="c" style="left:441.5px;top:637px">55.50%</div><div class="c" style="left:539.0px;top:637px">550</div><div class="c" style="left:634.0px;top:637px">12.6%</div><div class="c" style="left:722.6px;top:637px">74.30%</div></div>
</body>
</html>
